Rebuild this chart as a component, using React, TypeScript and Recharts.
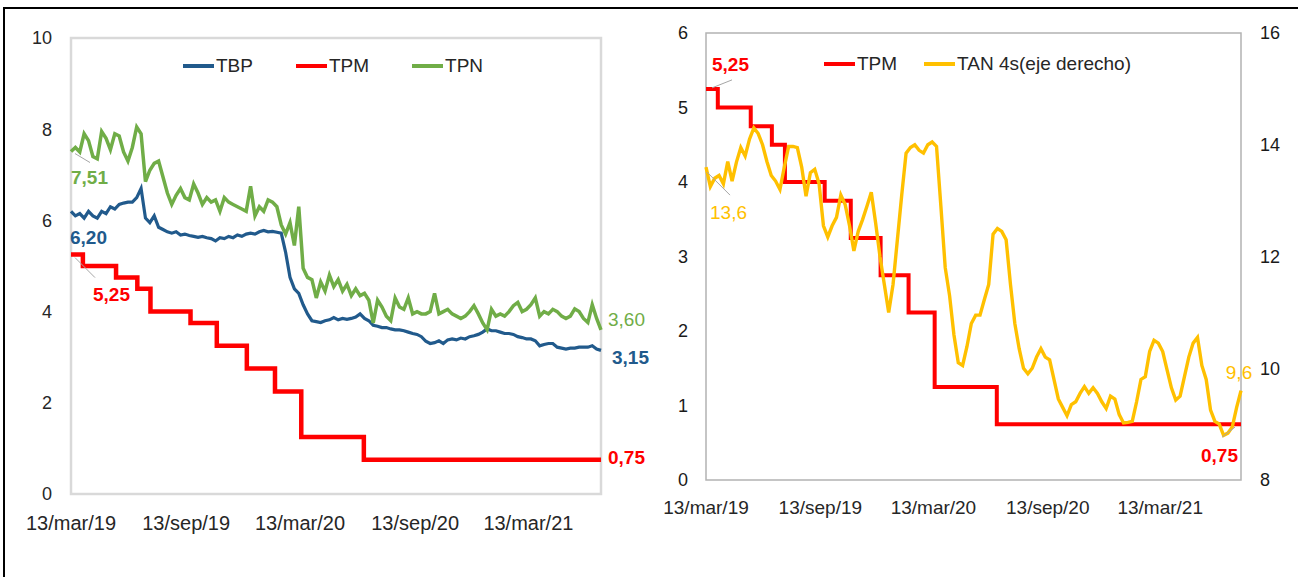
import { LineChart, Line, XAxis, YAxis, ReferenceArea, Legend, LabelList } from 'recharts';

// x axis: days since 13/mar/19
const DATE_TICKS = [0, 184, 366, 550, 731];
const DATE_LABELS = ['13/mar/19', '13/sep/19', '13/mar/20', '13/sep/20', '13/mar/21'];

// weekly readings, starting 13/mar/19
const TBP = [
  6.2, 6.1, 6.15, 6.05, 6.2, 6.1, 6.05, 6.2, 6.15, 6.3,
  6.25, 6.35, 6.38, 6.4, 6.4, 6.5, 6.7, 6.05, 5.95, 6.1,
  5.85, 5.8, 5.75, 5.72, 5.75, 5.68, 5.7, 5.67, 5.65, 5.63,
  5.65, 5.62, 5.6, 5.55, 5.62, 5.6, 5.65, 5.62, 5.68, 5.65,
  5.7, 5.72, 5.7, 5.75, 5.78, 5.75, 5.76, 5.74, 5.72, 5.3,
  4.75, 4.5, 4.4, 4.15, 3.95, 3.8, 3.78, 3.76, 3.8, 3.82,
  3.87, 3.82, 3.85, 3.83, 3.85, 3.88, 3.95, 3.85, 3.8, 3.7,
  3.68, 3.65, 3.65, 3.62, 3.6, 3.6, 3.58, 3.55, 3.52, 3.5,
  3.45, 3.35, 3.3, 3.32, 3.36, 3.3, 3.38, 3.4, 3.38, 3.42,
  3.4, 3.45, 3.47, 3.5, 3.55, 3.62, 3.58, 3.58, 3.55, 3.52,
  3.52, 3.5, 3.45, 3.43, 3.4, 3.4, 3.36, 3.25, 3.28, 3.3,
  3.3, 3.22, 3.2, 3.18, 3.2, 3.2, 3.22, 3.22, 3.22, 3.25,
  3.18, 3.15,
];

const TPN = [
  7.51, 7.6, 7.5, 7.9, 7.75, 7.4, 7.35, 7.95, 7.8, 7.55,
  7.9, 7.85, 7.5, 7.3, 7.6, 8.05, 7.9, 6.85, 7.1, 7.25,
  7.3, 6.95, 6.6, 6.35, 6.55, 6.7, 6.5, 6.45, 6.8, 6.6,
  6.35, 6.5, 6.4, 6.45, 6.2, 6.5, 6.4, 6.35, 6.3, 6.25,
  6.2, 6.75, 6.1, 6.3, 6.2, 6.45, 6.4, 6.3, 5.9, 5.7,
  5.95, 5.45, 6.3, 4.95, 4.75, 4.7, 4.3, 4.65, 4.45, 4.8,
  4.55, 4.7, 4.45, 4.6, 4.35, 4.5, 4.35, 4.4, 4.25, 3.75,
  4.25, 4.1, 3.9, 3.8, 4.3, 4.1, 4.05, 4.3, 3.95, 4.0,
  3.95, 3.95, 4.0, 4.4, 3.95, 4.0, 4.05, 3.95, 3.9, 3.85,
  3.9, 4.0, 4.13, 3.95, 3.75, 3.6, 4.05, 3.9, 3.95, 3.9,
  4.0, 4.13, 4.2, 4.0, 4.05, 4.15, 4.3, 3.9, 4.0, 3.95,
  4.05, 4.0, 3.9, 3.85, 3.9, 4.06, 4.0, 3.85, 3.76, 4.15,
  3.85, 3.6,
];

const TAN_4S = [
  13.6, 13.25, 13.4, 13.45, 13.3, 13.7, 13.35, 13.69, 13.95, 13.8,
  14.1, 14.3, 14.2, 14.0, 13.7, 13.45, 13.35, 13.2, 13.6, 13.97,
  13.97, 13.95, 13.6, 13.08, 13.5, 13.56, 13.3, 12.55, 12.35, 12.55,
  12.7, 13.1, 12.93, 12.55, 12.1, 12.45, 12.66, 12.9, 13.15, 12.6,
  12.0, 11.5, 11.0, 11.5, 12.3, 13.1, 13.85, 13.95, 14.0, 13.9,
  13.85, 14.0, 14.05, 13.97, 12.9, 11.8, 11.3, 10.6, 10.1, 10.05,
  10.39, 10.8, 10.95, 10.95, 11.23, 11.5, 12.4, 12.5, 12.45, 12.3,
  11.5, 10.8, 10.35, 10.0, 9.9, 10.0, 10.2, 10.35, 10.2, 10.15,
  9.8, 9.45, 9.3, 9.15, 9.35, 9.4, 9.55, 9.67, 9.55, 9.65,
  9.55, 9.4, 9.28, 9.5, 9.45, 9.17, 9.02, 9.03, 9.05, 9.4,
  9.8, 9.85, 10.3, 10.5, 10.45, 10.3, 9.97, 9.65, 9.43, 9.5,
  9.85, 10.2, 10.45, 10.55, 10.05, 9.8, 9.25, 9.05, 9.0, 8.8,
  8.84, 8.95, 9.3, 9.6,
];

// policy rate changes (day since 13/mar/19)
const TPM_DAYS = [0, 19, 72, 106, 127, 191, 233, 281, 326, 368, 468];
const TPM_VALUES = [5.25, 5, 4.75, 4.5, 4, 3.75, 3.25, 2.75, 2.25, 1.25, 0.75];

const LEFT_END = (TBP.length - 1) * 7;
const RIGHT_END = (TAN_4S.length - 1) * 7;

const C_TBP = '#215a8c';
const C_TPM = '#ff0000';
const C_TPN = '#70ad47';
const C_TAN = '#ffc000';

const leftData = TBP.map((v, i) => ({ day: i * 7, tbp: v, tpn: TPN[i] }));
const rightData = TAN_4S.map((v, i) => ({ day: i * 7, tan: v }));

const tpmSteps = (end: number) => [
  ...TPM_DAYS.map((d, i) => ({ day: d, tpm: TPM_VALUES[i] })),
  { day: end, tpm: TPM_VALUES[TPM_VALUES.length - 1] },
];

type EndLabel = {
  at: 'first' | 'last';
  dx: number;
  dy: number;
  anchor?: 'start' | 'middle' | 'end';
  bold?: boolean;
  leader?: [number, number, number, number];
};

function endLabels(color: string, count: number, decimals: number, specs: EndLabel[]) {
  return (props: any) => {
    const { x, y, value, index } = props;
    const spec = specs.find((s) => (s.at === 'first' ? 0 : count - 1) === index);
    if (!spec || x == null || y == null) return null;
    const text = Number(value).toFixed(decimals).replace('.', ',');
    return (
      <g>
        {spec.leader && (
          <line
            x1={x + spec.leader[0]}
            y1={y + spec.leader[1]}
            x2={x + spec.leader[2]}
            y2={y + spec.leader[3]}
            stroke="#a6a6a6"
            strokeWidth={1}
          />
        )}
        <text
          x={x + spec.dx}
          y={y + spec.dy}
          fill={color}
          fontSize={19}
          fontWeight={spec.bold ? 700 : 400}
          textAnchor={spec.anchor ?? 'start'}
          dominantBaseline="central"
        >
          {text}
        </text>
      </g>
    );
  };
}

function LegendRow({ items, gap }: { items: { name: string; color: string }[]; gap: number }) {
  return (
    <div style={{ display: 'flex', alignItems: 'center', fontSize: 19, color: '#262626', whiteSpace: 'nowrap' }}>
      {items.map((it, i) => (
        <div key={it.name} style={{ display: 'flex', alignItems: 'center', marginRight: i < items.length - 1 ? gap : 0 }}>
          <svg width={31} height={4}>
            <line x1={0} y1={2} x2={31} y2={2} stroke={it.color} strokeWidth={4} />
          </svg>
          <span style={{ marginLeft: 2 }}>{it.name}</span>
        </div>
      ))}
    </div>
  );
}

const tickFmt = (d: number) => DATE_LABELS[DATE_TICKS.indexOf(d)] ?? '';

function LeftChart() {
  const tpm = tpmSteps(LEFT_END);
  return (
    <LineChart width={665} height={577} data={leftData} margin={{ top: 38, right: 64, bottom: 0, left: 0 }}>
      <XAxis
        dataKey="day"
        type="number"
        domain={[0, LEFT_END]}
        ticks={DATE_TICKS}
        tickFormatter={tickFmt}
        interval={0}
        height={83}
        axisLine={false}
        tickLine={false}
        tickSize={0}
        tickMargin={22}
        tick={{ fill: '#262626', fontSize: 20 }}
      />
      <YAxis
        domain={[0, 10]}
        ticks={[0, 2, 4, 6, 8, 10]}
        width={71}
        axisLine={false}
        tickLine={false}
        tickSize={0}
        tickMargin={19}
        tick={{ fill: '#262626', fontSize: 18 }}
      />
      <ReferenceArea x1={0} x2={LEFT_END} y1={0} y2={10} fill="none" stroke="#d9d9d9" strokeWidth={2.5} />
      <Legend
        layout="horizontal"
        verticalAlign="middle"
        align="center"
        wrapperStyle={{ top: 55, left: 183, width: 'auto' }}
        content={() => (
          <LegendRow
            gap={43}
            items={[
              { name: 'TBP', color: C_TBP },
              { name: 'TPM', color: C_TPM },
              { name: 'TPN', color: C_TPN },
            ]}
          />
        )}
      />
      <Line dataKey="tbp" name="TBP" stroke={C_TBP} strokeWidth={3.2} dot={false} activeDot={false} isAnimationActive={false}>
        <LabelList
          dataKey="tbp"
          content={endLabels(C_TBP, TBP.length, 2, [
            { at: 'first', dx: -1, dy: 26, bold: true },
            { at: 'last', dx: 11, dy: 7, bold: true },
          ])}
        />
      </Line>
      <Line
        data={tpm}
        dataKey="tpm"
        name="TPM"
        type="stepAfter"
        stroke={C_TPM}
        strokeWidth={4.5}
        dot={false}
        activeDot={false}
        isAnimationActive={false}
      >
        <LabelList
          dataKey="tpm"
          content={endLabels(C_TPM, tpm.length, 2, [
            { at: 'first', dx: 22, dy: 40, bold: true, leader: [4, 3, 24, 23] },
            { at: 'last', dx: 7, dy: -2, bold: true },
          ])}
        />
      </Line>
      <Line dataKey="tpn" name="TPN" stroke={C_TPN} strokeWidth={3.5} dot={false} activeDot={false} isAnimationActive={false}>
        <LabelList
          dataKey="tpn"
          content={endLabels(C_TPN, TPN.length, 2, [
            { at: 'first', dx: 0, dy: 26, bold: true, leader: [4, 2, 19, 11] },
            { at: 'last', dx: 7, dy: -10 },
          ])}
        />
      </Line>
    </LineChart>
  );
}

function RightChart() {
  const tpm = tpmSteps(RIGHT_END);
  return (
    <LineChart width={658} height={577} data={rightData} margin={{ top: 33, right: 0, bottom: 0, left: 0 }}>
      <XAxis
        dataKey="day"
        type="number"
        domain={[0, RIGHT_END]}
        ticks={DATE_TICKS}
        tickFormatter={tickFmt}
        interval={0}
        height={97}
        axisLine={false}
        tickLine={false}
        tickSize={0}
        tickMargin={21}
        tick={{ fill: '#262626', fontSize: 19 }}
      />
      <YAxis
        yAxisId="left"
        domain={[0, 6]}
        ticks={[0, 1, 2, 3, 4, 5, 6]}
        width={66}
        axisLine={false}
        tickLine={false}
        tickSize={0}
        tickMargin={18}
        tick={{ fill: '#1a1a1a', fontSize: 18 }}
      />
      <YAxis
        yAxisId="right"
        orientation="right"
        domain={[8, 16]}
        ticks={[8, 10, 12, 14, 16]}
        width={57}
        axisLine={false}
        tickLine={false}
        tickSize={0}
        tickMargin={19}
        tick={{ fill: '#1a1a1a', fontSize: 18 }}
      />
      <ReferenceArea yAxisId="left" x1={0} x2={RIGHT_END} y1={0} y2={6} fill="none" stroke="#b3b3b3" strokeWidth={1.5} />
      <Legend
        layout="horizontal"
        verticalAlign="middle"
        align="center"
        wrapperStyle={{ top: 53, left: 184, width: 'auto' }}
        content={() => (
          <LegendRow
            gap={27}
            items={[
              { name: 'TPM', color: C_TPM },
              { name: 'TAN 4s(eje derecho)', color: C_TAN },
            ]}
          />
        )}
      />
      <Line
        yAxisId="left"
        data={tpm}
        dataKey="tpm"
        name="TPM"
        type="stepAfter"
        stroke={C_TPM}
        strokeWidth={4}
        dot={false}
        activeDot={false}
        isAnimationActive={false}
      >
        <LabelList
          dataKey="tpm"
          content={endLabels(C_TPM, tpm.length, 2, [
            { at: 'first', dx: 6, dy: -24, bold: true, leader: [6, -1, 26, -9] },
            { at: 'last', dx: -3, dy: 31, anchor: 'end', bold: true, leader: [-19, 13, -6, 3] },
          ])}
        />
      </Line>
      <Line
        yAxisId="right"
        dataKey="tan"
        name="TAN 4s(eje derecho)"
        stroke={C_TAN}
        strokeWidth={3.4}
        dot={false}
        activeDot={false}
        isAnimationActive={false}
      >
        <LabelList
          dataKey="tan"
          content={endLabels(C_TAN, TAN_4S.length, 1, [
            { at: 'first', dx: 4, dy: 45, leader: [1, 5, 24, 28] },
            { at: 'last', dx: -2, dy: -18, anchor: 'middle' },
          ])}
        />
      </Line>
    </LineChart>
  );
}

export default function App() {
  return (
    <div
      style={{
        position: 'absolute',
        left: 0,
        top: 0,
        width: 1298,
        height: 577,
        background: '#fff',
        fontFamily: '"Liberation Sans", Arial, sans-serif',
        overflow: 'hidden',
      }}
    >
      <div
        style={{
          position: 'absolute',
          left: 3,
          top: 7,
          width: 1300,
          height: 580,
          borderTop: '2px solid #000',
          borderLeft: '2px solid #000',
        }}
      />
      <div style={{ position: 'absolute', left: 640, top: 0 }}>
        <RightChart />
      </div>
      <div style={{ position: 'absolute', left: 0, top: 0 }}>
        <LeftChart />
      </div>
    </div>
  );
}
